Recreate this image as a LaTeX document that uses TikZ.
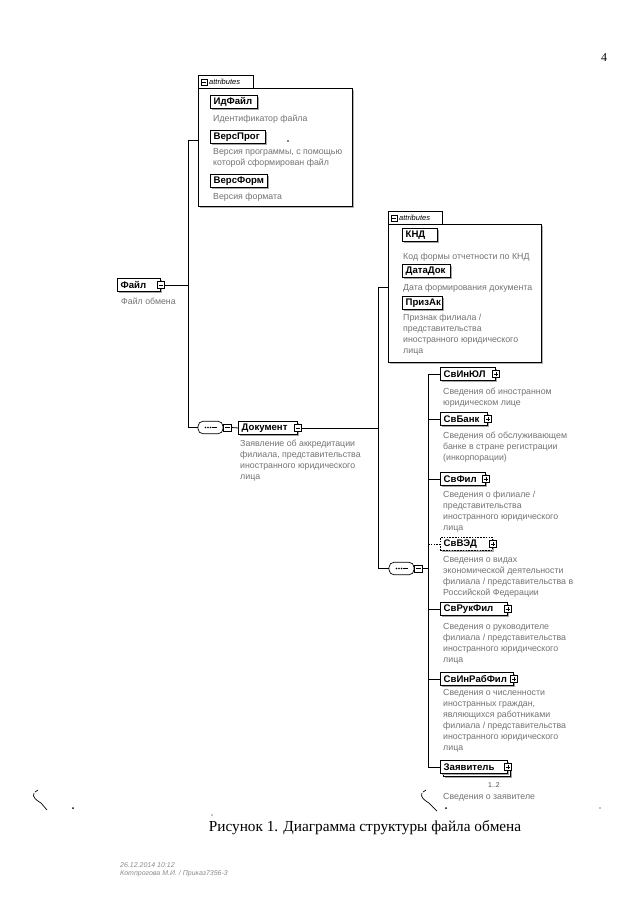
\documentclass[tikz,border=0pt]{standalone}
\usepackage{fontspec}
\setmainfont{Liberation Serif}
\newfontfamily\dsans{Liberation Sans}
\usetikzlibrary{shadows}

\tikzset{
  elbox/.style={draw=black, line width=0.9pt, fill=white, inner sep=0pt, minimum height=13pt, anchor=north west,
     drop shadow={shadow xshift=1.6pt, shadow yshift=-1.6pt, fill=black!35, opacity=1}},
  lab/.style={font=\dsans\bfseries\fontsize{9.6}{10}\selectfont, inner sep=0pt, anchor=west},
  desc/.style={font=\dsans\fontsize{8.8}{11}\selectfont, text=black!55, anchor=north west, align=left, inner sep=0pt},
  conn/.style={draw=black, line width=0.8pt},
  icn/.style={draw=black, fill=white, line width=0.5pt, minimum size=7.5pt, inner sep=0pt},
  plusic/.style={icn, path picture={
     \draw[line width=0.5pt] ([xshift=-2.4pt]path picture bounding box.center) -- ([xshift=2.4pt]path picture bounding box.center);
     \draw[line width=0.5pt] ([yshift=-2.4pt]path picture bounding box.center) -- ([yshift=2.4pt]path picture bounding box.center);}},
  minusic/.style={icn, path picture={
     \draw[line width=0.5pt] ([xshift=-2.4pt]path picture bounding box.center) -- ([xshift=2.4pt]path picture bounding box.center);}},
  abox/.style={draw=black, line width=0.8pt, fill=white, inner sep=0pt, anchor=north west,
     drop shadow={shadow xshift=1.5pt, shadow yshift=-1.5pt, fill=black!30, opacity=1}},
  tabtxt/.style={font=\dsans\itshape\fontsize{7.5}{8}\selectfont, inner sep=0pt, anchor=west},
  seqic/.style={rectangle, rounded corners=5pt, draw=black, line width=0.7pt, fill=white,
     minimum width=25pt, minimum height=12.5pt, inner sep=0pt},
}

\newcommand\elnode[6]{% name, x, ytop, width, label, style
  \node[elbox, #6, minimum width=#4pt] (#1) at (#2,#3) {};
  \node[lab] (#1-l) at ([xshift=3.5pt]#1.west) {#5};
}

\begin{document}
\begin{tikzpicture}[x=1pt,y=-1pt]
\fill[white] (0,0) rectangle (640,905);
\useasboundingbox (0,0) rectangle (640,905);

% page number
\node[font=\fontsize{12}{12}\selectfont, inner sep=0pt] (pnum) at (604,58) {4};

% ---------- attributes box 1 ----------
\node[abox, minimum width=154pt, minimum height=118pt] (box1) at (198,88) {};
\draw[line width=0.8pt, fill=white] (198,88) -- (198,75.5) -- (253,75.5) -- (253,88);
\node[minusic, minimum size=6.5pt] (tab1m) at (204,82) {};
\node[tabtxt] (tab1t) at (209,82) {attributes};

\elnode{idf}{210}{95}{47}{ИдФайл}{}
\node[desc] (idf-d) at (213,115) {Идентификатор файла};
\elnode{vprog}{210}{130}{55}{ВерсПрог}{}
\node[desc] (vprog-d) at (213,148.5) {Версия программы, с помощью\\которой сформирован файл};
\elnode{vform}{210}{174}{57}{ВерсФорм}{}
\node[desc] (vform-d) at (213,193) {Версия формата};
\fill (288,141) circle (0.9pt);

% ---------- root ----------
\elnode{file}{117}{278}{43}{Файл}{}
\node[minusic] (file-i) at (file.east) {};
\node[desc] (file-d) at (121,298) {Файл обмена};

\coordinate (tr1top) at (188,140);
\coordinate (tr1bot) at (188,427.5);
\draw[conn] (file-i.east) -- (file-i.east -| tr1top);
\draw[conn] (box1.west |- tr1top) -- (tr1top) -- (tr1bot);

% sequence 1
\node[seqic] (seq1) at (210.5,427.5) {};
\draw[line width=0.6pt] ([xshift=1pt]seq1.center) -- ([xshift=6pt]seq1.center);
\foreach \dx in {-5,-2.5,0} \fill ([xshift=\dx pt]seq1.center) circle (0.8pt);
\node[minusic] (seq1m) at ([xshift=3.8pt]seq1.east) {};
\draw[conn] (tr1bot) -- (seq1.west);

% Документ
\elnode{doc}{238}{421}{59}{Документ}{}
\node[minusic] (doc-i) at (doc.east) {};
\draw[conn] (seq1m.east) -- (doc.west);
\node[desc] (doc-d) at (240,440) {Заявление об аккредитации\\филиала, представительства\\иностранного юридического\\лица};

% ---------- attributes box 2 ----------
\node[abox, minimum width=153pt, minimum height=138pt] (box2) at (388,224) {};
\draw[line width=0.8pt, fill=white] (388,224) -- (388,211.5) -- (442,211.5) -- (442,224);
\node[minusic, minimum size=6.5pt] (tab2m) at (394,218) {};
\node[tabtxt] (tab2t) at (399,218) {attributes};

\elnode{knd}{402}{228}{35}{КНД}{}
\node[desc] (knd-d) at (403,253) {Код формы отчетности по КНД};
\elnode{datadok}{402}{264}{48}{ДатаДок}{}
\node[desc] (datadok-d) at (403,284) {Дата формирования документа};
\elnode{prizak}{402}{296}{40}{ПризАк}{}
\node[desc] (prizak-d) at (403,314) {Признак филиала /\\представительства\\иностранного юридического\\лица};

\coordinate (tr2top) at (378,287);
\coordinate (tr2bot) at (378,568.5);
\draw[conn] (doc-i.east) -- (doc-i.east -| tr2top);
\draw[conn] (box2.west |- tr2top) -- (tr2top) -- (tr2bot);

% sequence 2
\node[seqic] (seq2) at (401.5,568.5) {};
\draw[line width=0.6pt] ([xshift=1pt]seq2.center) -- ([xshift=6pt]seq2.center);
\foreach \dx in {-5,-2.5,0} \fill ([xshift=\dx pt]seq2.center) circle (0.8pt);
\node[minusic] (seq2m) at ([xshift=3.8pt]seq2.east) {};
\draw[conn] (tr2bot) -- (seq2.west);
\coordinate (tr3) at (428,568.5);
\draw[conn] (seq2m.east) -- (tr3);

% ---------- children ----------
\elnode{svinul}{440}{367}{55}{СвИнЮЛ}{}
\node[plusic] (svinul-i) at (svinul.east) {};
\node[desc] (svinul-d) at (443,388) {Сведения об иностранном\\юридическом лице};

\elnode{svbank}{440}{412}{47}{СвБанк}{}
\node[plusic] (svbank-i) at (svbank.east) {};
\node[desc] (svbank-d) at (443,432) {Сведения об обслуживающем\\банке в стране регистрации\\(инкорпорации)};

\elnode{svfil}{440}{472}{45}{СвФил}{}
\node[plusic] (svfil-i) at (svfil.east) {};
\node[desc] (svfil-d) at (443,491) {Сведения о филиале /\\представительства\\иностранного юридического\\лица};

\elnode{svved}{440}{537}{52}{СвВЭД}{dashed, dash pattern=on 1.6pt off 1.2pt}
\node[plusic] (svved-i) at (svved.east) {};
\node[desc] (svved-d) at (443,556) {Сведения о видах\\экономической деятельности\\филиала / представительства в\\Российской Федерации};

\elnode{svruk}{440}{602}{67}{СвРукФил}{}
\node[plusic] (svruk-i) at (svruk.east) {};
\node[desc] (svruk-d) at (443,623) {Сведения о руководителе\\филиала / представительства\\иностранного юридического\\лица};

\elnode{svinrab}{440}{672}{73}{СвИнРабФил}{}
\node[plusic] (svinrab-i) at (svinrab.east) {};
\node[desc] (svinrab-d) at (443,689) {Сведения о численности\\иностранных граждан,\\являющихся работниками\\филиала / представительства\\иностранного юридического\\лица};

\node[elbox, minimum width=67pt] (zayav-b) at (443,763) {};
\elnode{zayav}{440}{760}{67}{Заявитель}{}
\node[plusic] (zayav-i) at (zayav.east) {};
\node[font=\dsans\fontsize{7}{7}\selectfont, text=black!70, inner sep=0pt] (zayav-m) at (494,785) {1..2};
\node[desc] (zayav-d) at (443,793) {Сведения о заявителе};

% connectors to children
\draw[conn] (svinul.west -| tr3) -- (zayav.west -| tr3);
\foreach \n in {svinul,svbank,svfil,svruk,svinrab,zayav}
  \draw[conn] (\n.west -| tr3) -- (\n.west);
\draw[conn, dashed, dash pattern=on 1.6pt off 1.2pt] (svved.west -| tr3) -- (svved.west);

% ---------- scan marks ----------
\draw[line width=0.7pt] (34,793) .. controls (32,797) and (36,800) .. (41,803) -- (47,810);
\draw[line width=0.7pt] (35,792) -- (38,790);
\draw[line width=0.7pt] (422,793) .. controls (420,797) and (424,800) .. (429,803) -- (437,811);
\draw[line width=0.7pt] (423,792) -- (426,790);
\fill (73,808) circle (1pt);
\fill (446,808) circle (1pt);
\fill (212,815) circle (0.6pt);
\fill (600,808) circle (0.6pt);

% ---------- caption ----------
\node[font=\fontsize{15.3}{15.3}\selectfont, inner sep=0pt] (caption) at (365,828) {Рисунок 1. Диаграмма структуры файла обмена};

% ---------- footer ----------
\node[font=\dsans\itshape\fontsize{7}{8.5}\selectfont, text=black!45, anchor=north west, align=left, inner sep=0pt] (footer) at (120,862) {26.12.2014 10:12\\Котпрогова М.И. / Приказ7356-3};
\end{tikzpicture}
\end{document}
